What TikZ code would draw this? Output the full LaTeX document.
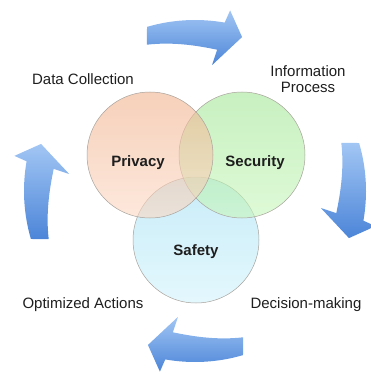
\documentclass[tikz,border=0pt]{standalone}
\usepackage{fontspec}
\setmainfont{Liberation Sans}
\usepackage{tikz}
\usetikzlibrary{calc,positioning}

\definecolor{arrowlight}{HTML}{A2C6F4}
\definecolor{arrowdark}{HTML}{4C85D8}
\definecolor{privtop}{HTML}{F0B18C}
\definecolor{privbot}{HTML}{FCD9C5}
\definecolor{sectop}{HTML}{A3E696}
\definecolor{secbot}{HTML}{C8F7BC}
\definecolor{safetop}{HTML}{A3DFF3}
\definecolor{safebot}{HTML}{D2F3FC}
\definecolor{ringgray}{HTML}{A8A29C}
\definecolor{textgray}{HTML}{1E1E1E}

\begin{document}
\begin{tikzpicture}[x=1pt,y=1pt,
  steptext/.style={font=\fontsize{15}{16}\selectfont, text=textgray, anchor=base, inner sep=0pt},
  venntext/.style={steptext, font=\fontsize{15}{16}\selectfont\bfseries},
  venn/.style={circle, minimum size=126pt, inner sep=0pt, draw=ringgray, line width=0.5pt, fill opacity=0.6},
  cyclearrow/.style={top color=arrowlight, bottom color=arrowdark}]
\useasboundingbox (0,0) rectangle (370,-374);

\begin{scope}[shift={(195,-191)}]
\foreach \a in {0,-90,-180,-270}{
  \shade[cyclearrow] ({106.3+\a}:171) arc[start angle={106.3+\a}, end angle={80+\a}, radius=171]
    -- ({79+\a}:184) -- ({73+\a}:161) -- ({82.3+\a}:127) -- ({81.1+\a}:143)
    .. controls ({90+\a}:146) and ({99+\a}:151) .. ({108.2+\a}:154) -- cycle;
}
\end{scope}

\node[venn, top color=safetop, bottom color=safebot] (safety) at (196,-240) {};
\node[venn, top color=sectop, bottom color=secbot] (security) at (242,-155) {};
\node[venn, top color=privtop, bottom color=privbot] (privacy) at (150,-155) {};

\node[venntext] (privacy-label) at (138,-166) {Privacy};
\node[venntext] (security-label) at (255,-166) {Security};
\node[venntext] (safety-label) at (196,-255) {Safety};

\node[steptext] (collect) at (83,-85) {Data Collection};
\node[steptext, align=center] (inform) at (308,-93) {Information\\Process};
\node[steptext] (decide) at (306,-308) {Decision-making};
\node[steptext] (optimize) at (83,-308) {Optimized Actions};
\end{tikzpicture}
\end{document}
